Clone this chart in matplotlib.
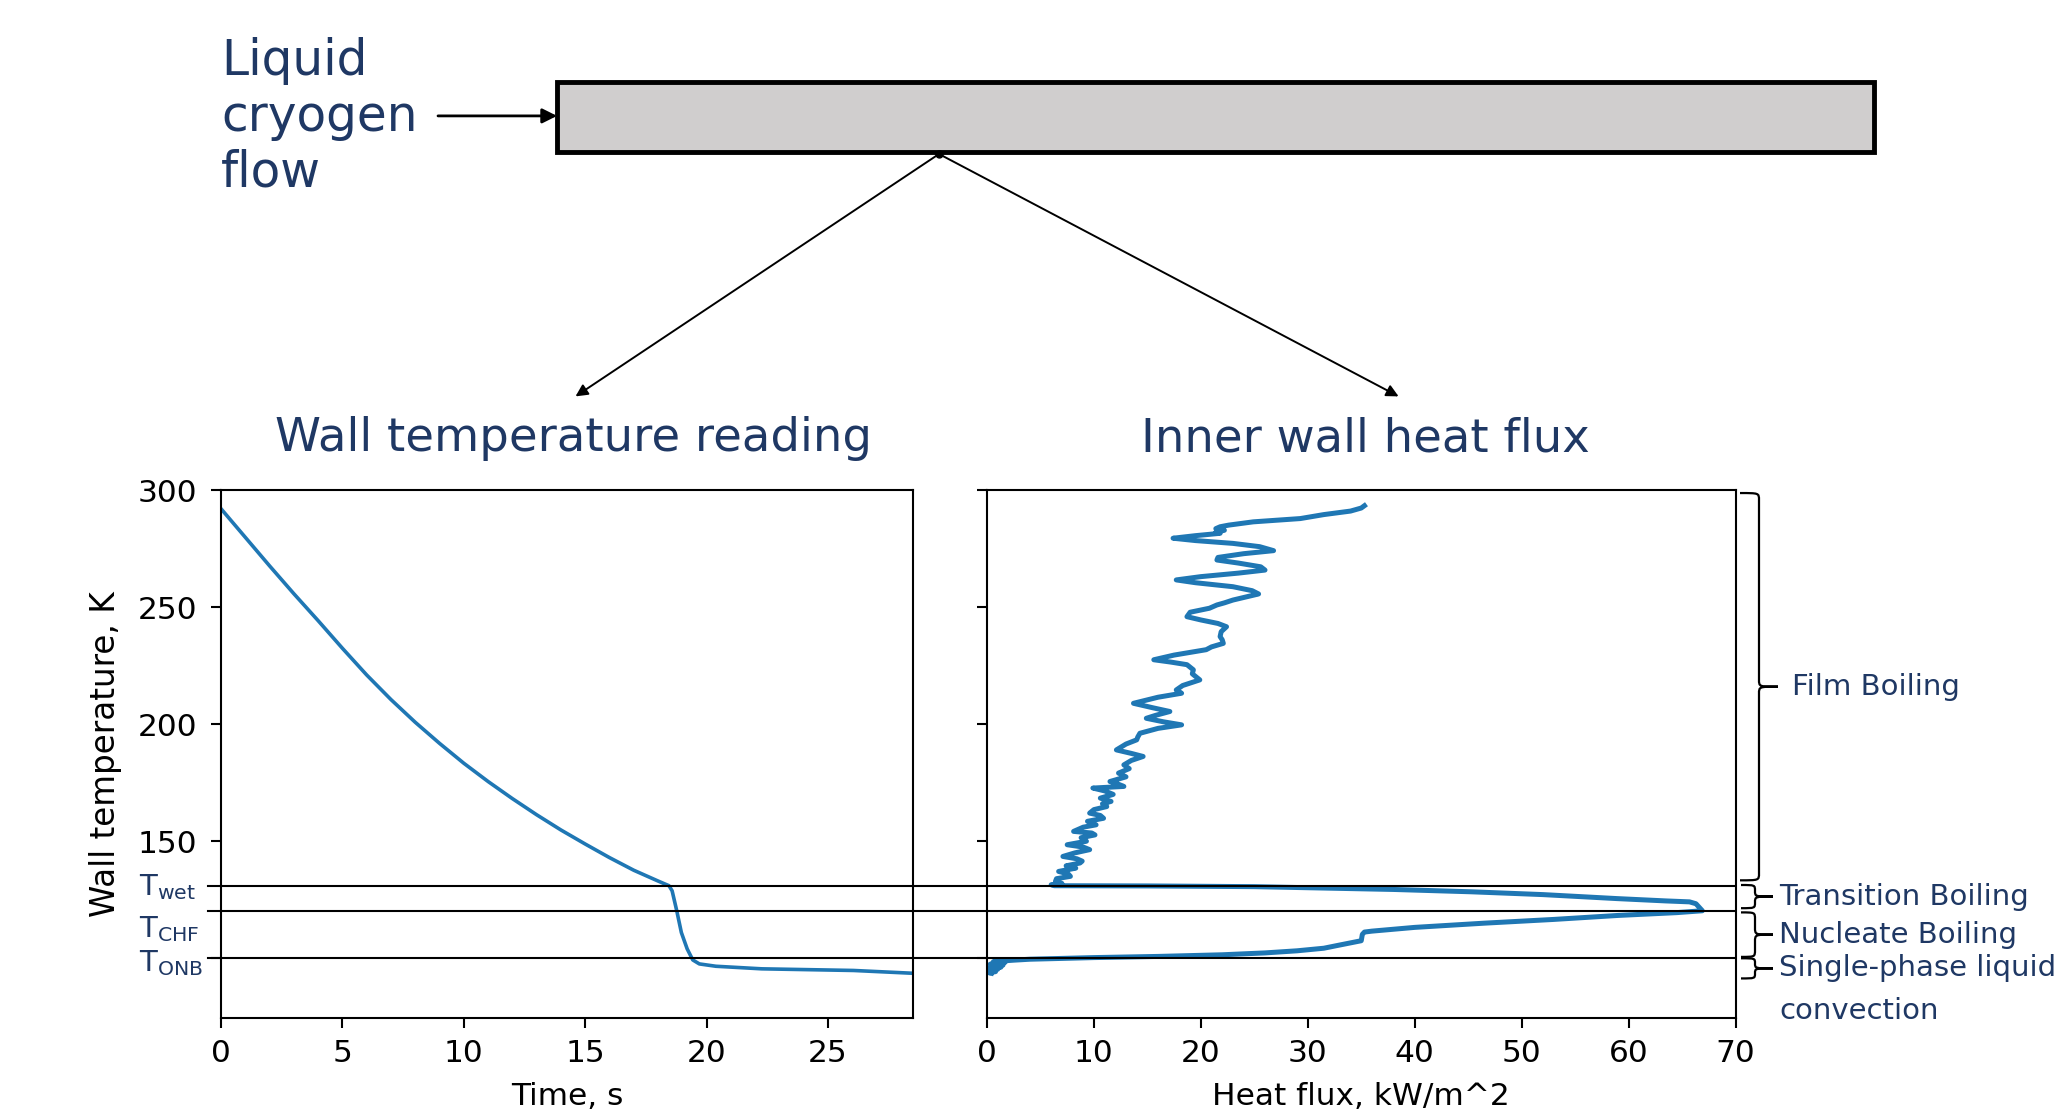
import numpy as np
import matplotlib
matplotlib.use("Agg")
import matplotlib.pyplot as plt
from matplotlib.path import Path
from matplotlib.patches import PathPatch, Rectangle
from matplotlib.lines import Line2D
from matplotlib.transforms import blended_transform_factory

### -------------------------------------------- data
# wall temperature history (left panel)
time_s = [0, 1, 2, 3, 4, 5, 6, 7, 8, 9, 10, 11, 12, 13, 14, 15, 16, 17, 18, 18.45,
          18.58, 18.77, 18.96, 19.2, 19.43, 19.7, 20.38, 22.27, 26.05, 28.5]
wall_T = [292.0, 279.8, 267.6, 255.7, 244.2, 232.4, 221.0, 210.5, 200.8, 191.8, 183.3,
          175.5, 168.2, 161.3, 154.8, 148.8, 143.0, 137.6, 133.0, 131.0,
          128.8, 120.3, 111.0, 104.0, 99.3, 97.6, 96.6, 95.5, 94.8, 93.6]

# inner wall heat flux vs wall temperature (right panel)
flux_T = [293.3, 292.3, 291.0, 289.5, 287.8, 286.4, 285.0, 284.3, 283.5, 282.8, 282.0, 281.5,
          280.5, 279.4, 278.4, 277.2, 275.8, 274.1, 272.8, 271.2, 270.1, 268.8, 267.2, 265.8,
          264.5, 263.0, 261.6, 260.4, 258.7, 257.0, 255.6, 254.3, 253.0, 251.8, 250.9, 249.5,
          247.8, 245.9, 244.5, 243.0, 241.6, 239.5, 237.4, 236.0, 234.5, 233.0, 231.8, 229.5,
          227.5, 226.5, 225.4, 223.2, 221.5, 220.0, 218.9, 216.5, 214.6, 213.2, 211.5, 208.9,
          207.0, 205.4, 203.8, 202.5, 201.0, 199.7, 198.2, 196.1, 194.5, 193.3, 191.5, 189.0,
          187.5, 186.2, 184.5, 182.6, 181.0, 179.1, 177.5, 175.5, 174.5, 173.4, 172.7, 171.5,
          170.0, 168.4, 167.0, 166.0, 164.8, 163.5, 162.0, 161.0, 159.8, 158.5, 157.0, 156.0,
          154.2, 153.5, 152.7, 151.5, 150.0, 148.5, 147.5, 146.4, 145.0, 143.5, 142.5, 141.5,
          140.7, 139.5, 138.5, 137.1, 136.0, 135.0, 134.0, 132.8, 132.0, 131.4, 131.0,
          130.9, 130.6, 130.0, 129.4, 128.4, 127.2, 125.5, 124.5, 124.1, 123.3, 120.3,
          119.5, 118.3, 116.6, 115.0, 113.2, 111.6, 111.2, 110.2, 107.5, 106.6, 105.5, 104.3,
          103.2, 102.3, 101.5, 100.8, 100.3, 99.6, 99.2, 98.9, 98.6, 98.3, 97.9, 97.5,
          97.1, 96.7, 96.2, 95.8, 95.3, 94.8, 94.3, 93.8, 93.6]
flux_q = [35.3, 35.0, 34.0, 31.5, 29.3, 24.9, 22.6, 21.8, 21.4, 22.2, 21.4, 21.8,
          19.5, 17.4, 19.5, 23.0, 25.5, 26.8, 24.0, 21.6, 21.5, 23.5, 25.6, 26.0,
          23.5, 20.0, 17.7, 19.5, 23.0, 24.8, 25.4, 24.2, 23.0, 22.2, 21.5, 20.8,
          19.0, 18.7, 20.0, 21.6, 22.4, 21.9, 21.8, 22.0, 22.1, 21.0, 20.5, 17.5,
          15.6, 17.2, 18.7, 19.3, 19.2, 19.6, 19.9, 18.3, 17.7, 18.2, 16.0, 13.7,
          15.5, 17.1, 15.8, 14.9, 16.5, 18.2, 16.0, 14.3, 14.1, 14.0, 13.0, 12.1,
          13.5, 14.6, 13.5, 12.8, 13.3, 12.3, 13.0, 11.5, 12.2, 12.8, 9.9, 11.0,
          11.8, 10.6, 11.6, 10.8, 11.2, 10.0, 9.6, 10.6, 10.9, 9.4, 10.2, 9.0,
          8.1, 9.8, 10.1, 8.8, 9.3, 7.5, 9.0, 9.6, 8.2, 7.1, 8.4, 8.9,
          8.7, 7.4, 8.3, 6.7, 7.6, 7.8, 6.5, 6.4, 7.0, 6.0, 6.3,
          15.0, 25.0, 31.6, 38.0, 45.3, 52.0, 58.9, 63.5, 65.7, 66.3, 66.9,
          64.5, 59.0, 53.0, 46.5, 40.0, 36.0, 35.3, 35.1, 35.0, 34.0, 32.8, 31.5,
          29.0, 26.0, 22.0, 16.0, 10.0, 4.0, 2.5, 1.6, 0.6, 1.7, 1.0, 0.3,
          1.5, 0.5, 1.3, 0.2, 1.0, 0.3, 0.8, 0.2, 0.4]

# characteristic temperatures
level_T = [131.0, 120.3, 100.0]
level_lab = [r'$\mathregular{T_{wet}}$', r'$\mathregular{T_{CHF}}$', r'$\mathregular{T_{ONB}}$']

# boiling regimes (brace spans in K)
regime_lab = ['Film Boiling', 'Transition Boiling', 'Nucleate Boiling', 'Single-phase liquid']
regime_lo = [133.3, 121.4, 100.6, 91.4]
regime_hi = [298.7, 131.3, 119.6, 100.0]

time_ticks = [0, 5, 10, 15, 20, 25]
flux_ticks = [0, 10, 20, 30, 40, 50, 60, 70]
temp_ticks = [100, 150, 200, 250, 300]
temp_ticklab = ['', '150', '200', '250', '300']

### -------------------------------------------- figure
W, H = 2065, 1120
navy = '#1f3864'
blue = '#1f77b4'

fig = plt.figure(figsize=(W / 100, H / 100), dpi=100)

ax1 = fig.add_axes([221 / W, 1 - 1018 / H, 692 / W, 528 / H])
ax2 = fig.add_axes([987 / W, 1 - 1018 / H, 748.5 / W, 528 / H])

ax1.plot(time_s, wall_T, color=blue, lw=2.6)
ax1.set_xlim(0, 28.5)
ax1.set_xticks(time_ticks)
ax1.set_yticks(temp_ticks)
ax1.set_yticklabels(temp_ticklab)
ax1.set_xlabel('Time, s', fontsize=22.5, labelpad=10)
ax1.set_ylabel('Wall temperature, K', fontsize=23.5, labelpad=11)

ax2.plot(flux_q, flux_T, color=blue, lw=3.6, solid_joinstyle='round')
ax2.set_xlim(0, 70)
ax2.set_xticks(flux_ticks)
ax2.set_yticks(temp_ticks)
ax2.set_yticklabels([])
ax2.set_xlabel('Heat flux, kW/m^2', fontsize=22.5, labelpad=10)

for ax in (ax1, ax2):
    ax.set_ylim(74.5, 300)
    ax.tick_params(labelsize=22.5, length=7, width=1.5)
    ax.tick_params(axis='x', pad=8)
    ax.tick_params(axis='y', pad=10)
    for s in ax.spines.values():
        s.set_linewidth(1.5)

# overlay in pixel coordinates for the schematic parts
ov = fig.add_axes([0, 0, 1, 1])
ov.set_xlim(0, W)
ov.set_ylim(H, 0)
ov.set_autoscale_on(False)
ov.axis('off')
ov.patch.set_visible(False)

bl = blended_transform_factory(ov.transData, ax1.transData)

# temperature levels across both panels
for T in level_T:
    ov.add_line(Line2D([208, 1735], [T, T], transform=bl, color='k', lw=1.5))
label_base = [126.9, 108.9, 94.3]
for yb, lab in zip(label_base, level_lab):
    ov.text(139, yb, lab, transform=bl, fontsize=21, color=navy, ha='left', va='baseline')

# braces + regime labels
def brace(x_end, x_stem, x_tip, lo, hi, r):
    mid = (lo + hi) / 2
    r = min(r, (hi - lo) / 4)
    verts = [(x_end, hi), (x_stem, hi), (x_stem, hi), (x_stem, hi - r),
             (x_stem, mid + r),
             (x_stem, mid), (x_stem, mid), (x_tip, mid),
             (x_stem, mid), (x_stem, mid), (x_stem, mid - r),
             (x_stem, lo + r),
             (x_stem, lo), (x_stem, lo), (x_end, lo)]
    codes = [Path.MOVETO, Path.CURVE4, Path.CURVE4, Path.CURVE4, Path.LINETO,
             Path.CURVE4, Path.CURVE4, Path.CURVE4, Path.CURVE4, Path.CURVE4, Path.CURVE4,
             Path.LINETO, Path.CURVE4, Path.CURVE4, Path.CURVE4]
    ov.add_patch(PathPatch(Path(verts, codes), transform=bl, fill=False, lw=1.6, ec='k'))

for i, (lab, lo, hi) in enumerate(zip(regime_lab, regime_lo, regime_hi)):
    mid = (lo + hi) / 2
    if i == 0:
        brace(1740, 1759, 1778, lo, hi, 3.0)
        ov.text(1792, mid, lab, transform=bl, fontsize=21, color=navy, va='center')
    else:
        brace(1741, 1755, 1773, lo, hi, 3.0)
        ov.text(1779, mid, lab, transform=bl, fontsize=21, color=navy, va='center')
ov.annotate('convection', xy=(1779, (regime_lo[3] + regime_hi[3]) / 2), xycoords=bl,
            xytext=(0, -31), textcoords='offset points', fontsize=21, color=navy, va='center')

# pipe schematic
ov.add_patch(Rectangle((557, 81.7), 1317, 69.8, fc='#d0cece', ec='k', lw=3.5))
ov.annotate('', xy=(557, 115.9), xytext=(438, 115.9),
            arrowprops=dict(arrowstyle='-|>', color='k', lw=2, mutation_scale=22,
                            shrinkA=0, shrinkB=0))
ov.text(221, 117, 'Liquid\ncryogen\nflow', fontsize=35, color=navy, ha='left', va='center',
        linespacing=1.2)
ov.plot(939, 154, 'o', color='k', ms=5)
for xe in (575.5, 1398.6):
    ov.annotate('', xy=(xe, 396.4), xytext=(939, 154),
                arrowprops=dict(arrowstyle='-|>', color='k', lw=1.4, mutation_scale=18,
                                shrinkA=0, shrinkB=0))

ov.text(573.5, 438.6, 'Wall temperature reading', fontsize=33.5, color=navy, ha='center', va='center')
ov.text(1365.7, 438.6, 'Inner wall heat flux', fontsize=33.5, color=navy, ha='center', va='center')

fig.savefig('out.png', dpi=100)
plt.close()
